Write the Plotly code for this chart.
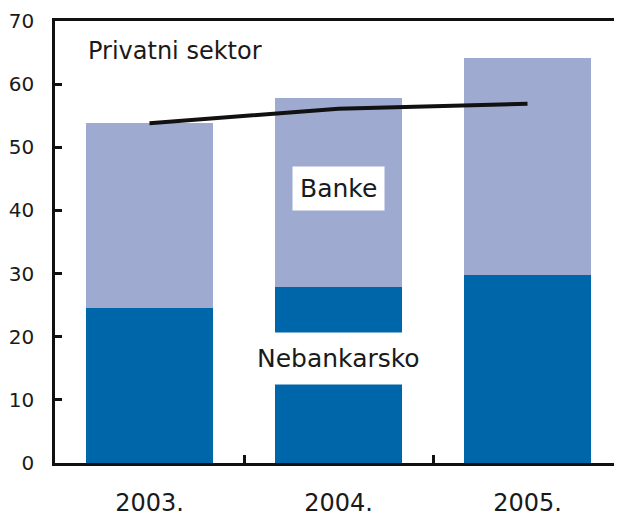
import plotly.graph_objects as go

years = ["2003.", "2004.", "2005."]
nebankarsko = [24.6, 27.9, 29.8]
banke = [29.3, 29.9, 34.4]
privatni_sektor = [53.8, 56.1, 56.9]
y_ticks = [0, 10, 20, 30, 40, 50, 60, 70]

FONT = "DejaVu Sans"
TXT = "#1a1a1a"

fig = go.Figure()
fig.add_trace(go.Bar(x=years, y=nebankarsko, marker=dict(color="#0066AA", line=dict(width=0)),
                     width=0.67, name="Nebankarsko"))
fig.add_trace(go.Bar(x=years, y=banke, marker=dict(color="#9EAAD0", line=dict(width=0)),
                     width=0.67, name="Banke"))
fig.add_trace(go.Scatter(x=years, y=privatni_sektor, mode="lines",
                         line=dict(color="#111111", width=4), name="Privatni sektor"))

# page body has an 8px default margin: size the figure to fit the 622x517 window
fig.update_layout(
    width=614, height=509,
    margin=dict(l=47, r=0, t=13, b=54, autoexpand=False),
    barmode="stack", bargap=0.33,
    showlegend=False,
    plot_bgcolor="white", paper_bgcolor="white",
    font=dict(family=FONT, color=TXT),
)
fig.update_xaxes(
    type="category", range=[-0.5, 2.5], automargin=False,
    showline=True, linecolor="#111111", linewidth=2.5, mirror=True,
    ticks="inside", tickson="boundaries", ticklen=8, tickwidth=2.5, tickcolor="#111111",
    tickfont=dict(size=24, family=FONT, color=TXT), ticklabelstandoff=16,
    showgrid=False,
)
fig.update_yaxes(
    range=[0, 70], tickvals=y_ticks, automargin=False,
    showline=True, linecolor="#111111", linewidth=2.5,
    ticks="inside", ticklen=7, tickwidth=2.5, tickcolor="#111111",
    tickfont=dict(size=20, family=FONT, color=TXT), ticklabelstandoff=14,
    showgrid=False, zeroline=False,
)

mid = years.index("2004.")
fig.add_annotation(x=0.0547, xref="paper", xanchor="left", y=65.3, yref="y",
                   text="Privatni sektor", showarrow=False,
                   font=dict(size=24, family=FONT, color=TXT))
fig.add_annotation(x=mid, xref="x", y=43.5, yref="y", text="Banke", showarrow=False,
                   font=dict(size=25, family=FONT, color=TXT),
                   bgcolor="white", borderpad=7)
fig.add_annotation(x=mid, xref="x", y=16.6, yref="y", text="Nebankarsko", showarrow=False,
                   font=dict(size=25, family=FONT, color=TXT),
                   bgcolor="white", borderpad=11)

fig.write_html("out.html")
